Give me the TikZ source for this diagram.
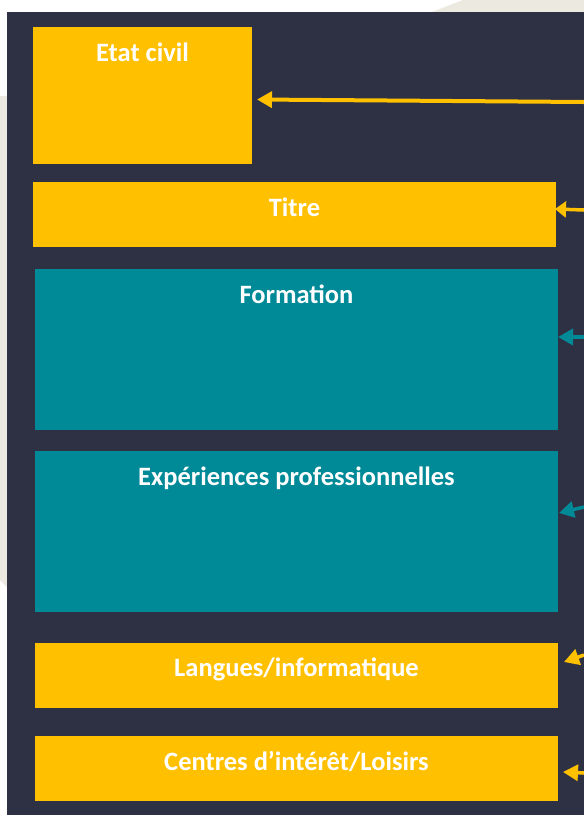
\documentclass[tikz,border=0pt]{standalone}
\usepackage{fontspec}
\setmainfont{Carlito}
\usepackage{xcolor}
\usepackage{tikz}
\usetikzlibrary{arrows.meta}
\definecolor{cvnavy}{HTML}{2E3144}
\definecolor{cvyellow}{HTML}{FFC000}
\definecolor{cvteal}{HTML}{008996}
\definecolor{cvbeige}{HTML}{ECE9E1}

\begin{document}
\begin{tikzpicture}[x=1pt, y=-1pt,
  cvbox/.style={rectangle, anchor=north west, inner sep=0pt, outer sep=0pt},
  cvtitle/.style={anchor=base, inner sep=0pt, text=white, font=\fontsize{26.5}{30}\selectfont\bfseries},
  cvarrow/.style={line width=3.5pt, -{Triangle[length=15pt, width=16pt]}}]
\useasboundingbox[fill=white] (0,0) rectangle (584,815);
% paper behind
\fill[cvbeige] (432,12) -- (463,0) -- (584,0) -- (584,12) -- cycle;
\fill[cvbeige] (0,96) -- (7,96) -- (7,587) -- (0,580) -- cycle;
\fill[cvnavy] (7,12) rectangle (584,815);
% the blocks of the CV
\node[cvbox, fill=cvyellow, minimum width=219pt, minimum height=137pt] (etat) at (33,27) {};
\node[cvbox, fill=cvyellow, minimum width=523pt, minimum height=65pt] (titre) at (33,182) {};
\node[cvbox, fill=cvteal, minimum width=523pt, minimum height=161pt] (formation) at (35,269) {};
\node[cvbox, fill=cvteal, minimum width=523pt, minimum height=161pt] (experiences) at (35,451) {};
\node[cvbox, fill=cvyellow, minimum width=523pt, minimum height=65pt] (langues) at (35,643) {};
\node[cvbox, fill=cvyellow, minimum width=523pt, minimum height=65pt] (loisirs) at (35,736) {};
\node[cvtitle] (etatText) at ([yshift=-34.5pt]etat.north) {Etat civil};
\node[cvtitle] (titreText) at ([yshift=-34.5pt]titre.north) {Titre};
\node[cvtitle] (formationText) at ([yshift=-34.5pt]formation.north) {Formation};
\node[cvtitle] (experiencesText) at ([yshift=-34.5pt]experiences.north) {Expériences professionnelles};
\node[cvtitle] (languesText) at ([yshift=-33.5pt]langues.north) {Langues/informatique};
\node[cvtitle] (loisirsText) at ([yshift=-34.5pt]loisirs.north) {Centres d’intérêt/Loisirs};
% arrows coming from the right
\coordinate (fromEtat) at (584,102);
\coordinate (fromTitre) at (584,210);
\coordinate (fromFormation) at (584,337);
\coordinate (fromExperiences) at (584,507);
\coordinate (fromLangues) at (584,655);
\coordinate (fromLoisirs) at (584,773);
\draw[cvarrow, cvyellow, line width=4pt] (fromEtat) -- ([shift={(5,4)}]etat.east);
\draw[cvarrow, cvyellow, -{Triangle[length=11pt, width=16pt]}] (fromTitre) -- ([shift={(-1,-5.5)}]titre.east);
\draw[cvarrow, cvteal] (fromFormation) -- ([shift={(0,-12.5)}]formation.east);
\draw[cvarrow, cvteal] (fromExperiences) -- ([shift={(1,-18.5)}]experiences.east);
\draw[cvarrow, cvyellow] (fromLangues) -- ([shift={(6,-13.5)}]langues.east);
\draw[cvarrow, cvyellow] (fromLoisirs) -- ([shift={(5,3.5)}]loisirs.east);
\end{tikzpicture}
\end{document}
